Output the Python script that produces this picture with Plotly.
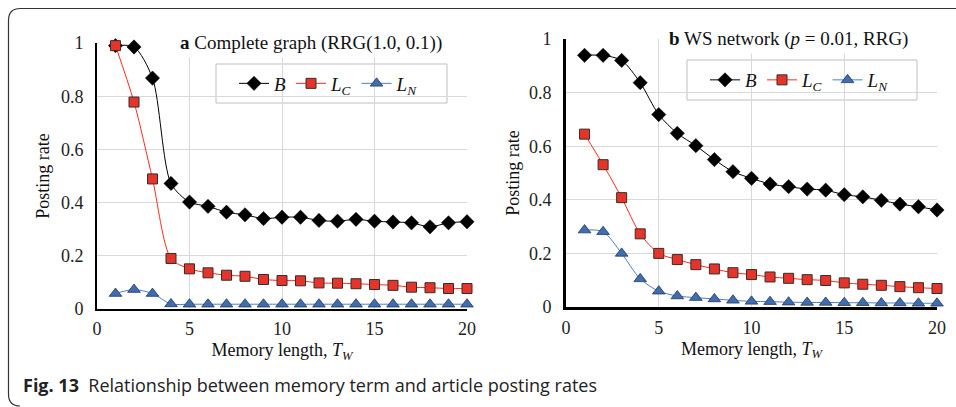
import plotly.graph_objects as go

# Memory length T_W
memory = list(range(1, 21))

# (a) Complete graph, RRG(1.0, 0.1)
a_B = [0.99, 0.985, 0.868, 0.472, 0.402, 0.386, 0.364, 0.354, 0.340, 0.345,
       0.345, 0.333, 0.330, 0.337, 0.330, 0.327, 0.324, 0.309, 0.324, 0.328]
a_LC = [0.99, 0.778, 0.489, 0.190, 0.151, 0.136, 0.127, 0.123, 0.111, 0.107,
        0.106, 0.098, 0.097, 0.095, 0.092, 0.089, 0.082, 0.080, 0.077, 0.077]
a_LN = [0.058, 0.073, 0.058, 0.019, 0.018, 0.018, 0.018, 0.018, 0.018, 0.018,
        0.018, 0.018, 0.018, 0.018, 0.018, 0.018, 0.018, 0.018, 0.018, 0.018]

# (b) WS network, p = 0.01, RRG
b_B = [0.939, 0.939, 0.920, 0.837, 0.718, 0.648, 0.602, 0.550, 0.505, 0.480,
       0.459, 0.449, 0.440, 0.436, 0.419, 0.411, 0.398, 0.384, 0.374, 0.362]
b_LC = [0.645, 0.531, 0.408, 0.273, 0.200, 0.177, 0.158, 0.142, 0.128, 0.121,
        0.112, 0.107, 0.102, 0.099, 0.090, 0.085, 0.081, 0.076, 0.072, 0.069]
b_LN = [0.287, 0.281, 0.200, 0.105, 0.059, 0.041, 0.035, 0.030, 0.025, 0.021,
        0.020, 0.018, 0.017, 0.017, 0.016, 0.016, 0.015, 0.015, 0.014, 0.014]

x_ticks = [0, 5, 10, 15, 20]
y_ticks = [0, 0.2, 0.4, 0.6, 0.8, 1]
y_tick_text = ["0", "0.2", "0.4", "0.6", "0.8", "1"]

W, H = 956, 407
SERIF = "Liberation Serif"

series_names = ["<i>B</i>", "<i>L</i><sub><i>C</i></sub>", "<i>L</i><sub><i>N</i></sub>"]
styles = [
    dict(line=dict(color="#000000", width=1),
         marker=dict(symbol="diamond", size=11, color="#000000",
                     line=dict(color="#000000", width=0.5))),
    dict(line=dict(color="#FF2A1A", width=1),
         marker=dict(symbol="square", size=10, color="#E5352B",
                     line=dict(color="#3a2a2a", width=1))),
    dict(line=dict(color="#4A7FCC", width=1),
         marker=dict(symbol="triangle-up", size=11, color="#3D6DB3",
                     line=dict(color="#2a3550", width=0.8))),
]


def px_x(p):
    return p / W


def px_y(p):
    return 1 - p / H


fig = go.Figure()

panels = [
    ("x", "y", "legend", [a_B, a_LC, a_LN]),
    ("x2", "y2", "legend2", [b_B, b_LC, b_LN]),
]
for xa, ya, leg, data in panels:
    for name, vals, st in zip(series_names, data, styles):
        fig.add_trace(go.Scatter(
            x=memory, y=vals, name=name, mode="lines+markers",
            line=dict(shape="spline", smoothing=0.8, **st["line"]),
            marker=st["marker"], xaxis=xa, yaxis=ya, legend=leg,
            cliponaxis=False,
        ))

axis_font = dict(family=SERIF, size=18, color="#222")
common_x = dict(range=[0, 20], tickmode="array", tickvals=x_ticks,
                ticktext=[str(v) for v in x_ticks], showgrid=True,
                gridcolor="#d9d9d9", gridwidth=1, zeroline=False,
                showline=True, linecolor="#000", tickfont=axis_font,
                ticks="", ticklabelstandoff=2, fixedrange=True,
                automargin=False)
common_y = dict(range=[0, 1], tickmode="array", tickvals=y_ticks,
                ticktext=y_tick_text, showgrid=True,
                gridcolor="#d9d9d9", gridwidth=1, zeroline=False,
                showline=True, linecolor="#000", tickfont=axis_font,
                ticks="", ticklabelstandoff=8, fixedrange=True,
                automargin=False)

title_font = dict(family=SERIF, size=18, color="#111")
legend_font = dict(family=SERIF, size=19, color="#111")

fig.update_layout(
    width=W, height=H, margin=dict(l=0, r=0, t=0, b=0, autoexpand=False),
    paper_bgcolor="white", plot_bgcolor="white",
    font=dict(family=SERIF, size=18, color="#111"),
    xaxis=dict(domain=[px_x(97), px_x(467)], anchor="y", linewidth=2,
               title=dict(text="Memory length, <i>T</i><sub><i>W</i></sub>",
                          font=title_font, standoff=6), **common_x),
    yaxis=dict(domain=[px_y(309), px_y(43)], anchor="x", linewidth=2,
               title=dict(text="Posting rate", font=title_font, standoff=7),
               **common_y),
    xaxis2=dict(domain=[px_x(566), px_x(937)], anchor="y2", linewidth=3,
                title=dict(text="Memory length, <i>T</i><sub><i>W</i></sub>",
                           font=title_font, standoff=6), **common_x),
    yaxis2=dict(domain=[px_y(307), px_y(39)], anchor="x2", linewidth=3,
                title=dict(text="Posting rate", font=title_font, standoff=5),
                **common_y),
    legend=dict(orientation="h", x=px_x(234), y=px_y(83.5), xanchor="left",
                yanchor="middle", bgcolor="rgba(0,0,0,0)", borderwidth=0,
                font=legend_font, itemwidth=30, tracegroupgap=0),
    legend2=dict(orientation="h", x=px_x(705), y=px_y(80), xanchor="left",
                 yanchor="middle", bgcolor="rgba(0,0,0,0)", borderwidth=0,
                 font=legend_font, itemwidth=30, tracegroupgap=0),
    showlegend=True,
)

# Legend frames
for (lx0, ly0, lx1, ly1) in [(216, 64, 447, 103), (687, 60, 917, 100)]:
    fig.add_shape(type="rect", xref="paper", yref="paper",
                  x0=px_x(lx0), x1=px_x(lx1), y0=px_y(ly1), y1=px_y(ly0),
                  fillcolor="white", line=dict(color="#bfbfbf", width=1),
                  layer="below")

# Panel headings on a white band that interrupts the top gridline
fig.add_annotation(text="<b>a</b> Complete graph (RRG(1.0, 0.1))",
                   xref="paper", yref="paper", x=px_x(311), y=px_y(43),
                   xanchor="center", yanchor="middle", showarrow=False,
                   bgcolor="white", borderpad=3,
                   font=dict(family=SERIF, size=19, color="#111"))
fig.add_annotation(text="<b>b</b> WS network (<i>p</i> = 0.01, RRG)",
                   xref="paper", yref="paper", x=px_x(788), y=px_y(39),
                   xanchor="center", yanchor="middle", showarrow=False,
                   bgcolor="white", borderpad=3,
                   font=dict(family=SERIF, size=19, color="#111"))

# Caption
fig.add_annotation(text="<b>Fig. 13</b>  Relationship between memory term and article posting rates",
                   xref="paper", yref="paper", x=px_x(21), y=px_y(385),
                   xanchor="left", yanchor="middle", showarrow=False,
                   font=dict(family="Open Sans", size=18, color="#222"))

# Rounded frame around the figure (open on the right)
x0, y0, r = px_x(8.5), px_y(8.5), 12
frame = (f"M 1,{y0} L {px_x(8.5 + r)},{y0} "
         f"Q {x0},{y0} {x0},{px_y(8.5 + r)} "
         f"L {x0},{px_y(394)} Q {x0},{px_y(406)} {px_x(20)},{px_y(406)}")
fig.add_shape(type="path", path=frame, xref="paper", yref="paper",
              line=dict(color="#333", width=1.2), layer="above")

fig.write_html("out.html")
